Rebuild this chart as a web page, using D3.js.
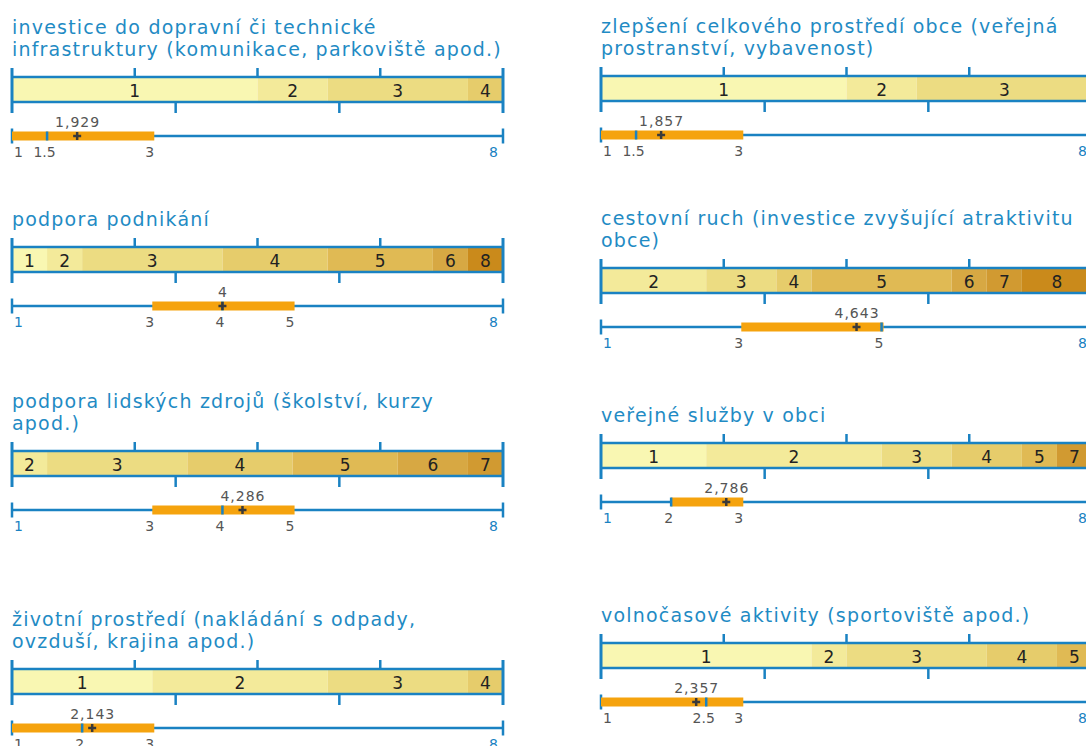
<!DOCTYPE html>
<html>
<head>
<meta charset="utf-8">
<script src="https://cdn.jsdelivr.net/npm/d3@7"></script>
<style>
  html, body { margin: 0; padding: 0; background: #fff; }
  svg { display: block; }
  text { font-family: "DejaVu Sans", Verdana, sans-serif; }
</style>
</head>
<body>
<svg id="chart" width="1086" height="746"></svg>
<script>
// ---------- data ----------
const titles = [
  ["investice do dopravní či technické", "infrastruktury (komunikace, parkoviště apod.)"],
  ["zlepšení celkového prostředí obce (veřejná", "prostranství, vybavenost)"],
  ["podpora podnikání"],
  ["cestovní ruch (investice zvyšující atraktivitu", "obce)"],
  ["podpora lidských zdrojů (školství, kurzy", "apod.)"],
  ["veřejné služby v obci"],
  ["životní prostředí (nakládání s odpady,", "ovzduší, krajina apod.)"],
  ["volnočasové aktivity (sportoviště apod.)"]
];
const ranks = [1, 2, 3, 4, 5, 6, 7, 8];
// number of respondents giving each rank 1..8
const counts = [
  [7, 2, 4, 1, 0, 0, 0, 0],
  [7, 2, 5, 0, 0, 0, 0, 0],
  [1, 1, 4, 3, 3, 1, 0, 1],
  [0, 3, 2, 1, 4, 1, 1, 2],
  [0, 1, 4, 3, 3, 2, 1, 0],
  [3, 5, 2, 2, 1, 0, 1, 0],
  [4, 5, 4, 1, 0, 0, 0, 0],
  [6, 1, 4, 2, 1, 0, 0, 0]
];
const means   = [1.929, 1.857, 4, 4.643, 4.286, 2.786, 2.143, 2.357];
const medians = [1.5, 1.5, 4, 5, 4, 2, 2, 2.5];
const q1s     = [1, 1, 3, 3, 3, 2, 1, 1];
const q3s     = [3, 3, 5, 5, 5, 3, 3, 3];
const topTicks = [0, 0.25, 0.5, 0.75, 1];
const bottomTicks = [1 / 3, 2 / 3];

// ---------- style / layout ----------
const rankColors = ["#f9f7b2", "#f3ea9a", "#ecdc82", "#e6cc6b", "#e0ba54", "#d7a843", "#d19a31", "#ca8a1b"];
const blue = "#1a82c2";
const titleBlue = "#1f8bc4";
const orange = "#f5a30e";
const grey = "#555";
const colX = [12, 601];
const barTops = [77, 76, 247, 268, 451, 443, 669, 643];
const W = 491;

const svg = d3.select("#chart");
const fmtComma = d3.formatLocale({decimal: ",", thousands: " ", grouping: [3], currency: ["", ""]}).format(".3~f");

titles.forEach((lines, i) => {
  const x0 = colX[i % 2];
  const T = barTops[i];
  const g = svg.append("g").attr("transform", `translate(${x0},${T})`);
  const cnt = counts[i];
  const n = d3.sum(cnt);
  const xb = d3.scaleLinear().domain([0, n]).range([0, W]);
  const xp = d3.scaleLinear().domain([0, 1]).range([0, W]);
  const xr = d3.scaleLinear().domain([1, 8]).range([0, W]);

  // title
  const nl = lines.length;
  g.selectAll("text.title").data(lines).join("text")
    .attr("class", "title")
    .attr("x", 0)
    .attr("y", (d, k) => -21 - (nl - 1 - k) * 22)
    .attr("fill", titleBlue)
    .attr("font-size", 19)
    .attr("letter-spacing", 1.2)
    .text(d => d);

  // stacked segments
  let acc = 0;
  const segs = ranks.map((r, k) => { const s = {rank: r, start: acc, v: cnt[k]}; acc += cnt[k]; return s; })
    .filter(s => s.v > 0);
  g.selectAll("rect.seg").data(segs).join("rect")
    .attr("x", d => xb(d.start))
    .attr("width", d => xb(d.start + d.v) - xb(d.start))
    .attr("y", 1).attr("height", 23)
    .attr("fill", d => rankColors[d.rank - 1]);
  g.selectAll("text.seg").data(segs).join("text")
    .attr("x", d => xb(d.start + d.v / 2))
    .attr("y", 19.5)
    .attr("text-anchor", "middle")
    .attr("font-size", 17)
    .attr("fill", "#222")
    .text(d => d.rank);

  // bar frame lines
  g.append("line").attr("x1", 0).attr("x2", W).attr("y1", 0).attr("y2", 0)
    .attr("stroke", blue).attr("stroke-width", 2.5);
  g.append("line").attr("x1", 0).attr("x2", W).attr("y1", 25).attr("y2", 25)
    .attr("stroke", blue).attr("stroke-width", 2.5);
  g.selectAll("line.tt").data(topTicks).join("line")
    .attr("x1", d => xp(d)).attr("x2", d => xp(d))
    .attr("y1", -9)
    .attr("y2", d => (d === 0 || d === 1) ? 36 : 0)
    .attr("stroke", blue).attr("stroke-width", d => (d === 0 || d === 1) ? 3 : 2.5);
  g.selectAll("line.bt").data(bottomTicks).join("line")
    .attr("x1", d => xp(d)).attr("x2", d => xp(d))
    .attr("y1", 25).attr("y2", 36)
    .attr("stroke", blue).attr("stroke-width", 2.5);

  // rank axis with box
  const A = 59;
  g.append("line").attr("x1", 0).attr("x2", W).attr("y1", A).attr("y2", A)
    .attr("stroke", blue).attr("stroke-width", 2.5);
  g.selectAll("line.et").data([1, 8]).join("line")
    .attr("x1", d => xr(d)).attr("x2", d => xr(d))
    .attr("y1", A - 7.5).attr("y2", A + 7.5)
    .attr("stroke", blue).attr("stroke-width", 2.5);
  g.append("rect")
    .attr("x", xr(q1s[i])).attr("width", xr(q3s[i]) - xr(q1s[i]) + 2)
    .attr("y", A - 4.5).attr("height", 9)
    .attr("fill", orange);
  g.append("line")
    .attr("x1", xr(medians[i])).attr("x2", xr(medians[i]))
    .attr("y1", A - 4.5).attr("y2", A + 4.5)
    .attr("stroke", blue).attr("stroke-width", 2.5);
  const mx = xr(means[i]);
  g.append("path")
    .attr("d", `M${mx - 4},${A}H${mx + 4}M${mx},${A - 4}V${A + 4}`)
    .attr("stroke", "#3a3a3a").attr("stroke-width", 2.5).attr("fill", "none");
  g.append("text")
    .attr("x", mx + 0.5).attr("y", A - 9.5)
    .attr("text-anchor", "middle")
    .attr("font-size", 14)
    .attr("letter-spacing", 1)
    .attr("fill", grey)
    .text(fmtComma(means[i]));

  // labels under the axis
  const stats = Array.from(new Set([q1s[i], medians[i], q3s[i]]));
  const labels = [];
  if (!stats.includes(1)) labels.push({v: 1, c: blue});
  stats.forEach(v => labels.push({v: v, c: grey}));
  if (!stats.includes(8)) labels.push({v: 8, c: blue});
  g.selectAll("text.lab").data(labels).join("text")
    .attr("x", d => d.v === 1 ? xr(d.v) + 2 : d.v === 8 ? xr(d.v) - 5 : xr(d.v) - 2.5)
    .attr("y", A + 21)
    .attr("text-anchor", d => d.v === 1 ? "start" : d.v === 8 ? "end" : "middle")
    .attr("font-size", 14)
    .attr("fill", d => d.c)
    .text(d => String(d.v));
});
</script>
</body>
</html>
